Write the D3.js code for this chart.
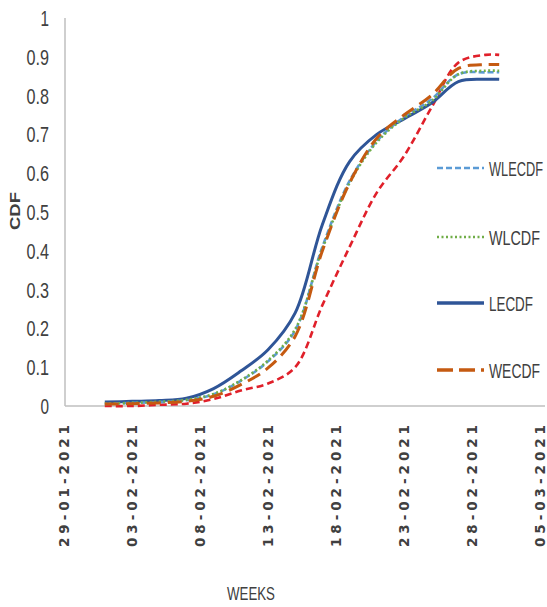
<!DOCTYPE html>
<html>
<head>
<meta charset="utf-8">
<script src="https://cdn.jsdelivr.net/npm/d3@7"></script>
<style>
  html, body { margin: 0; padding: 0; background: #fff; }
  svg { display: block; }
</style>
</head>
<body>
<svg id="chart" width="547" height="607"></svg>
<script>
// Observation dates (dd-mm-yyyy)
const dates = ["01-02-2021","03-02-2021","05-02-2021","07-02-2021","09-02-2021","11-02-2021",
  "13-02-2021","15-02-2021","17-02-2021","19-02-2021","21-02-2021","23-02-2021",
  "25-02-2021","27-02-2021","01-03-2021","02-03-2021"];

// Cumulative distribution values per series
const wlecdf = [0.005,0.008,0.010,0.015,0.030,0.065,0.115,0.195,0.410,0.580,0.683,0.745,0.790,0.855,0.860,0.860];
const wlcdf  = [0.006,0.008,0.011,0.016,0.031,0.066,0.117,0.198,0.405,0.575,0.680,0.742,0.785,0.855,0.864,0.864];
const lecdf  = [0.010,0.012,0.014,0.020,0.045,0.090,0.145,0.240,0.468,0.630,0.700,0.740,0.780,0.836,0.842,0.842];
const wecdf  = [0.005,0.006,0.008,0.012,0.025,0.055,0.098,0.180,0.400,0.575,0.690,0.750,0.800,0.870,0.880,0.880];
const ecdf   = [0.000,0.000,0.003,0.006,0.018,0.040,0.058,0.100,0.260,0.410,0.550,0.644,0.768,0.885,0.905,0.905];

// Axis ticks
const xTickLabels = ["29-01-2021","03-02-2021","08-02-2021","13-02-2021","18-02-2021","23-02-2021","28-02-2021","05-03-2021"];
const yTicks = [0,0.1,0.2,0.3,0.4,0.5,0.6,0.7,0.8,0.9,1];

const parse = d3.timeParse("%d-%m-%Y");
const svg = d3.select("#chart");
const FONT = "Liberation Sans, Arial, sans-serif";
const TEXT = "#404040";

const x = d3.scaleTime()
  .domain([parse("29-01-2021"), parse("05-03-2021")])
  .range([64, 540]);
const y = d3.scaleLinear().domain([0, 1]).range([406, 18]);

// Condensed-looking text: draw at the origin, then scale horizontally to a set width
function squeezed(parent, str, px, py, size, width, opts = {}) {
  const g = parent.append("g");
  const t = g.append("text")
    .attr("font-family", FONT)
    .attr("font-size", size)
    .attr("font-weight", opts.bold ? "bold" : null)
    .attr("fill", TEXT)
    .attr("dy", opts.dy || null)
    .text(str);
  const natural = t.node().getComputedTextLength();
  const sx = width / natural;
  const anchorShift = opts.anchor === "end" ? -width : opts.anchor === "middle" ? -width / 2 : 0;
  const rot = opts.rotate ? ` rotate(${opts.rotate})` : "";
  g.attr("transform", `translate(${px},${py})${rot} translate(${anchorShift},0) scale(${sx},1)`);
  return g;
}

// Axes lines
svg.append("line").attr("x1", 65).attr("x2", 65).attr("y1", y(1)).attr("y2", y(0))
  .attr("stroke", "#bfbfbf").attr("stroke-width", 1.5);
svg.append("line").attr("x1", 65).attr("x2", 545).attr("y1", y(0)).attr("y2", y(0))
  .attr("stroke", "#bfbfbf").attr("stroke-width", 1.5);

// Y tick labels
const fmt = d3.format("");
const yLab = svg.append("g");
yTicks.forEach(d => {
  const s = fmt(d);
  squeezed(yLab, s, 49, y(d), 22, s.length === 1 ? 8.5 : 22.5, { anchor: "end", dy: "0.36em" });
});

// X tick labels (rotated)
svg.append("g").selectAll("text").data(xTickLabels).join("text")
  .attr("transform", d => `translate(${x(parse(d)) + 5},425) rotate(-90)`)
  .attr("text-anchor", "end")
  .attr("font-family", "DejaVu Sans, sans-serif")
  .attr("font-weight", "bold")
  .attr("font-size", 13.5)
  .attr("textLength", 122)
  .attr("lengthAdjust", "spacing")
  .attr("fill", TEXT)
  .text(d => d);

// Axis titles
squeezed(svg, "CDF", 20, 211, 15, 38, { bold: true, anchor: "middle", rotate: -90 });
squeezed(svg, "WEEKS", 227, 600, 18, 48);

// Series
const series = [
  { values: ecdf,   color: "#e0202a", width: 2.6, dash: "7,4" },
  { values: lecdf,  color: "#2f5597", width: 3,   dash: null },
  { values: wlecdf, color: "#5b9bd5", width: 2.6, dash: "6,3" },
  { values: wlcdf,  color: "#70ad47", width: 2.6, dash: "2,2.5" },
  { values: wecdf,  color: "#c55a11", width: 3,   dash: "14,7" }
];

const line = d3.line()
  .x(d => x(d.date))
  .y(d => y(d.v))
  .curve(d3.curveCatmullRom.alpha(0.5));

series.forEach(s => {
  const pts = dates.map((d, i) => ({ date: parse(d), v: s.values[i] }));
  svg.append("path")
    .datum(pts)
    .attr("d", line)
    .attr("fill", "none")
    .attr("stroke", s.color)
    .attr("stroke-width", s.width)
    .attr("stroke-dasharray", s.dash)
    .attr("stroke-linejoin", "round");
});

// Legend
const legendItems = [
  { name: "WLECDF", color: "#5b9bd5", width: 2.6, dash: "6,3",   y: 168, w: 54 },
  { name: "WLCDF",  color: "#70ad47", width: 2.6, dash: "2,2.5", y: 237, w: 51 },
  { name: "LECDF",  color: "#2f5597", width: 3.5, dash: null,    y: 303, w: 44 },
  { name: "WECDF",  color: "#c55a11", width: 3.5, dash: "16,6",  y: 370, w: 51 }
];
const lg = svg.append("g");
legendItems.forEach(d => {
  lg.append("line")
    .attr("x1", 437).attr("x2", 484)
    .attr("y1", d.y).attr("y2", d.y)
    .attr("stroke", d.color)
    .attr("stroke-width", d.width)
    .attr("stroke-dasharray", d.dash);
  squeezed(lg, d.name, 489, d.y, 21, d.w, { dy: "0.36em" });
});
</script>
</body>
</html>
